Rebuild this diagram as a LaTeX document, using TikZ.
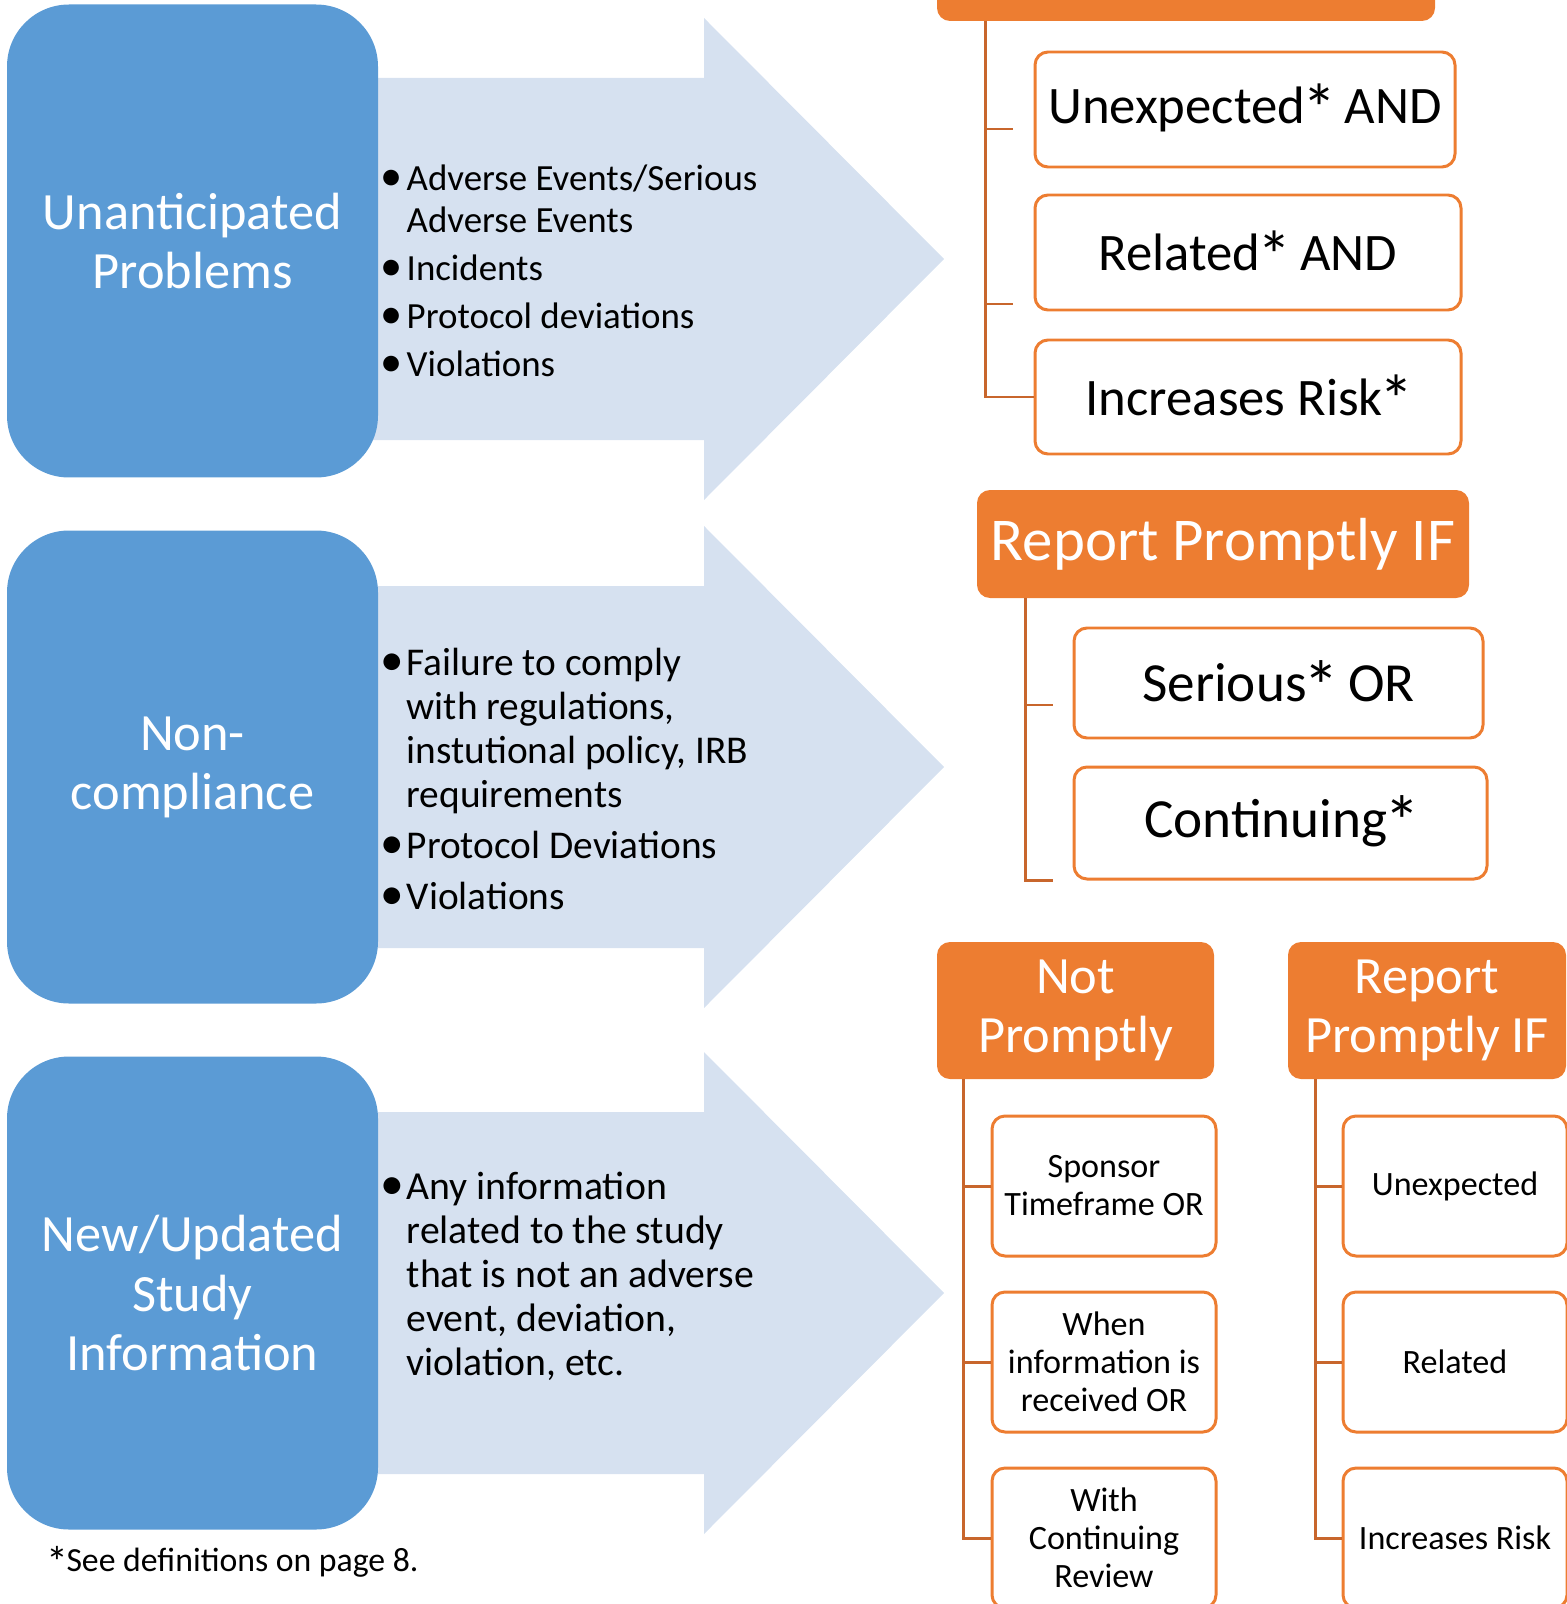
\documentclass[tikz,border=0pt]{standalone}
\usepackage{fontspec}
\usepackage{graphicx}
\setmainfont{Carlito}
\definecolor{topicblue}{HTML}{5B9BD5}
\definecolor{bandblue}{HTML}{D6E1F0}
\definecolor{hdrorange}{HTML}{ED7D31}
\definecolor{linkorange}{HTML}{C8662C}
\newcommand{\bulletmark}{\makebox[2.1mm][l]{\hspace{-0.5mm}\scalebox{1.2}{\textbullet}}}
\newcommand{\bulletpad}{\hspace*{2.1mm}}
\newcommand{\starmark}{\kern-0.06em\smash{\raisebox{-0.35ex}{\scalebox{1.3}{*}}}\kern-0.06em}
\begin{document}
\begin{tikzpicture}
        [x=0.1mm, y=-0.1mm,
        topic/.style={fill=topicblue, rounded corners=6.2mm, text=white, align=center, minimum width=37.1mm, minimum height=47.3mm, font=\fontsize{14.9pt}{16.8pt}\selectfont},
        band/.style={fill=bandblue},
        items/.style={anchor=west, align=left, inner sep=0pt},
        hdr/.style={fill=hdrorange, rounded corners=1.3mm, text=white, align=center, inner sep=0pt},
        cond/.style={draw=hdrorange, line width=0.85pt, fill=white, rounded corners=1.3mm, align=center, inner sep=0pt},
        link/.style={linkorange, line width=0.85pt}]

        \useasboundingbox (0,0) rectangle (1567,1604);
        \clip (0,0) rectangle (1567,1604);

        % big light arrows behind the topics
        \foreach \cy in {259,767,1293}
            \fill[band] (330,\cy-181) -- (704,\cy-181) -- (704,\cy-241) -- (944,\cy)
                -- (704,\cy+241) -- (704,\cy+181) -- (330,\cy+181) -- cycle;

        % topics
        \node[topic] (up) at (192.5,241) {Unanticipated\\Problems};
        \node[topic] (nc) at (192.5,767) {Non-\\compliance};
        \node[topic] (info) at (192.5,1293) {New/Updated\\Study\\Information};

        % bullet lists
        \node[items, font=\fontsize{10.5pt}{11.7pt}\selectfont] (upitems) at (385,271)
            {\bulletmark Adverse Events/Serious\\ \bulletpad Adverse Events\\[2pt]
             \bulletmark Incidents\\[2pt] \bulletmark Protocol deviations\\[2pt] \bulletmark Violations};
        \node[items, font=\fontsize{11.2pt}{12.5pt}\selectfont] (ncitems) at (385,779)
            {\bulletmark Failure to comply\\ \bulletpad with regulations,\\ \bulletpad instutional policy, IRB\\
             \bulletpad requirements\\[2pt] \bulletmark Protocol Deviations\\[2pt] \bulletmark Violations};
        \node[items, font=\fontsize{11.3pt}{12.5pt}\selectfont] (infoitems) at (385,1276)
            {\bulletmark Any information\\ \bulletpad related to the study\\ \bulletpad that is not an adverse\\
             \bulletpad event, deviation,\\ \bulletpad violation, etc.};

        % top group
        \node[hdr, minimum width=49.8mm, minimum height=10mm] (uphdr) at (1186,-29) {};
        \node[cond, minimum width=42mm, minimum height=11.5mm, font=\fontsize{15pt}{18pt}\selectfont] (upa) at (1245,109.5) {Unexpected\starmark{} AND};
        \node[cond, minimum width=42.6mm, minimum height=11.5mm, font=\fontsize{15pt}{18pt}\selectfont] (upb) at (1248,252.5) {Related\starmark{} AND};
        \node[cond, minimum width=42.6mm, minimum height=11.4mm, font=\fontsize{15pt}{18pt}\selectfont] (upc) at (1248,397) {Increases Risk\starmark};
        \coordinate (uptrunk) at (985,21);
        \coordinate (uptick1) at (1013,129);
        \coordinate (uptick2) at (1013,304);
        \draw[link] (uptrunk) |- (uptick1);
        \draw[link] (uptrunk) |- (uptick2);
        \draw[link] (uptrunk) |- (upc.west);

        % middle group
        \node[hdr, minimum width=49.2mm, minimum height=10.8mm, font=\fontsize{17.3pt}{20pt}\selectfont] (nchdr) at (1223,544) {Report Promptly IF};
        \node[cond, minimum width=40.9mm, minimum height=11mm, font=\fontsize{15.7pt}{19pt}\selectfont] (nca) at (1278.5,683) {Serious\starmark{} OR};
        \node[cond, minimum width=41.3mm, minimum height=11.2mm, font=\fontsize{15.7pt}{19pt}\selectfont] (ncb) at (1280.5,823) {Continuing\starmark};
        \coordinate (nctrunk) at (1025,598);
        \coordinate (nctick1) at (1053,705);
        \coordinate (nctick2) at (1053,880);
        \draw[link] (nctrunk) |- (nctick1);
        \draw[link] (nctrunk) |- (nctick2);

        % bottom groups
        \node[hdr, minimum width=27.7mm, minimum height=13.7mm, font=\fontsize{14.9pt}{16.8pt}\selectfont] (nphdr) at (1075.5,1010.5) {Not\\Promptly};
        \node[hdr, minimum width=27.8mm, minimum height=13.7mm, font=\fontsize{14.9pt}{16.8pt}\selectfont] (rphdr) at (1427,1010.5) {Report\\Promptly IF};
        \foreach \nm/\cx in {np/1104, rp/1455}
            \foreach \i/\cy in {a/1186, b/1362, c/1538}
                \node[cond, minimum width=22.4mm, minimum height=14mm, font=\fontsize{9.7pt}{10.8pt}\selectfont]
                    (\nm\i) at (\cx,\cy) {};
        \node[font=\fontsize{9.7pt}{10.8pt}\selectfont, align=center] at (npa) {Sponsor\\Timeframe OR};
        \node[font=\fontsize{9.7pt}{10.8pt}\selectfont, align=center] at (npb) {When\\information is\\received OR};
        \node[font=\fontsize{9.7pt}{10.8pt}\selectfont, align=center] at (npc) {With\\Continuing\\Review};
        \node[font=\fontsize{9.7pt}{10.8pt}\selectfont, align=center] at (rpa) {Unexpected};
        \node[font=\fontsize{9.7pt}{10.8pt}\selectfont, align=center] at (rpb) {Related};
        \node[font=\fontsize{9.7pt}{10.8pt}\selectfont, align=center] at (rpc) {Increases Risk};
        \coordinate (nptrunk) at (963,1079);
        \coordinate (rptrunk) at (1315,1079);
        \foreach \nm in {np, rp}
            \foreach \i in {a, b, c}
                \draw[link] (\nm trunk) |- (\nm\i.west);

        % footnote
        \node[anchor=west, inner sep=0pt, font=\fontsize{9.6pt}{11pt}\selectfont] (note) at (48,1563) {\starmark See definitions on page 8.};

        \end{tikzpicture}
\end{document}
